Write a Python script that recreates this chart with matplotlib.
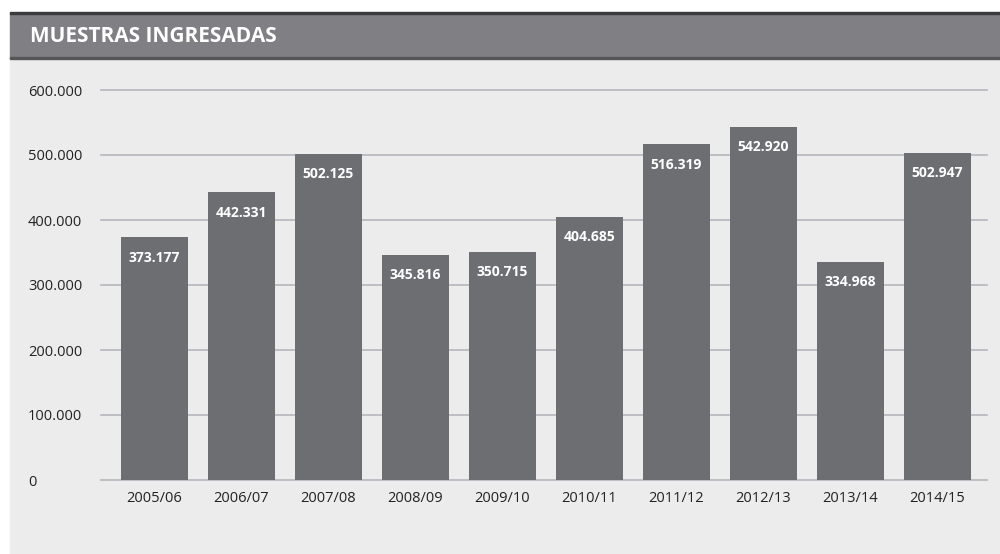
import matplotlib.pyplot as plt
from matplotlib.patches import Rectangle
from matplotlib.ticker import FuncFormatter

# data
seasons = ["2005/06", "2006/07", "2007/08", "2008/09", "2009/10",
           "2010/11", "2011/12", "2012/13", "2013/14", "2014/15"]
samples = [373177, 442331, 502125, 345816, 350715,
           404685, 516319, 542920, 334968, 502947]
y_ticks = [0, 100000, 200000, 300000, 400000, 500000, 600000]
title = "MUESTRAS INGRESADAS"

BAR = "#6d6e72"
HEADER = "#808084"
PANEL = "#ececec"
GRID = "#b5b5bc"

plt.rcParams["font.family"] = ["Open Sans", "DejaVu Sans"]


def fmt_es(v):
    return f"{int(v):,}".replace(",", ".")


def main():
    fig = plt.figure(figsize=(10, 5.54), dpi=100)
    W, H = 1000, 554

    # panel + header band (behind the axes)
    fig.patches.append(Rectangle((10 / W, 0), 990 / W, (H - 58) / H,
                                 transform=fig.transFigure, color=PANEL, zorder=-10))
    fig.patches.append(Rectangle((10 / W, (H - 58) / H), 990 / W, 45 / H,
                                 transform=fig.transFigure, color=HEADER, zorder=-10))
    fig.patches.append(Rectangle((10 / W, (H - 14) / H), 990 / W, 2 / H,
                                 transform=fig.transFigure, color="#3a3a3c", zorder=-9))
    fig.patches.append(Rectangle((10 / W, (H - 59) / H), 990 / W, 1.5 / H,
                                 transform=fig.transFigure, color="#555558", zorder=-9))
    fig.text(30 / W, (H - 36) / H, title, color="white", fontsize=15,
             fontweight="bold", ha="left", va="center")

    ax = fig.add_axes([101 / W, 74 / H, 886 / W, 390 / H])
    ax.set_zorder(5)
    ax.set_facecolor("none")
    x = list(range(len(seasons)))
    bars = ax.bar(x, samples, width=0.77, color=BAR, zorder=3)

    for b, v in zip(bars, samples):
        ax.annotate(fmt_es(v), (b.get_x() + b.get_width() / 2, v),
                    xytext=(0, -14.5), textcoords="offset points",
                    ha="center", va="center", color="white",
                    fontsize=10, fontweight="bold", zorder=4)

    ax.set_xlim(-0.615, len(seasons) - 1 + 0.57)
    ax.set_ylim(0, 600000)
    ax.set_yticks(y_ticks)
    ax.yaxis.set_major_formatter(FuncFormatter(lambda v, p: fmt_es(v)))
    ax.set_xticks(x)
    ax.set_xticklabels(seasons)
    ax.tick_params(axis="y", length=0, pad=52.5, labelsize=10.5, colors="#222222")
    ax.tick_params(axis="x", length=0, pad=8, labelsize=10.5, colors="#222222")
    for lab in ax.get_yticklabels():
        lab.set_horizontalalignment("left")

    ax.grid(axis="y", color=GRID, linewidth=1.2, zorder=1)
    for gl in ax.get_ygridlines():
        gl.set_clip_on(False)
    for s in ax.spines.values():
        s.set_visible(False)

    fig.savefig("out.png", dpi=100, facecolor="white")


if __name__ == "__main__":
    main()
